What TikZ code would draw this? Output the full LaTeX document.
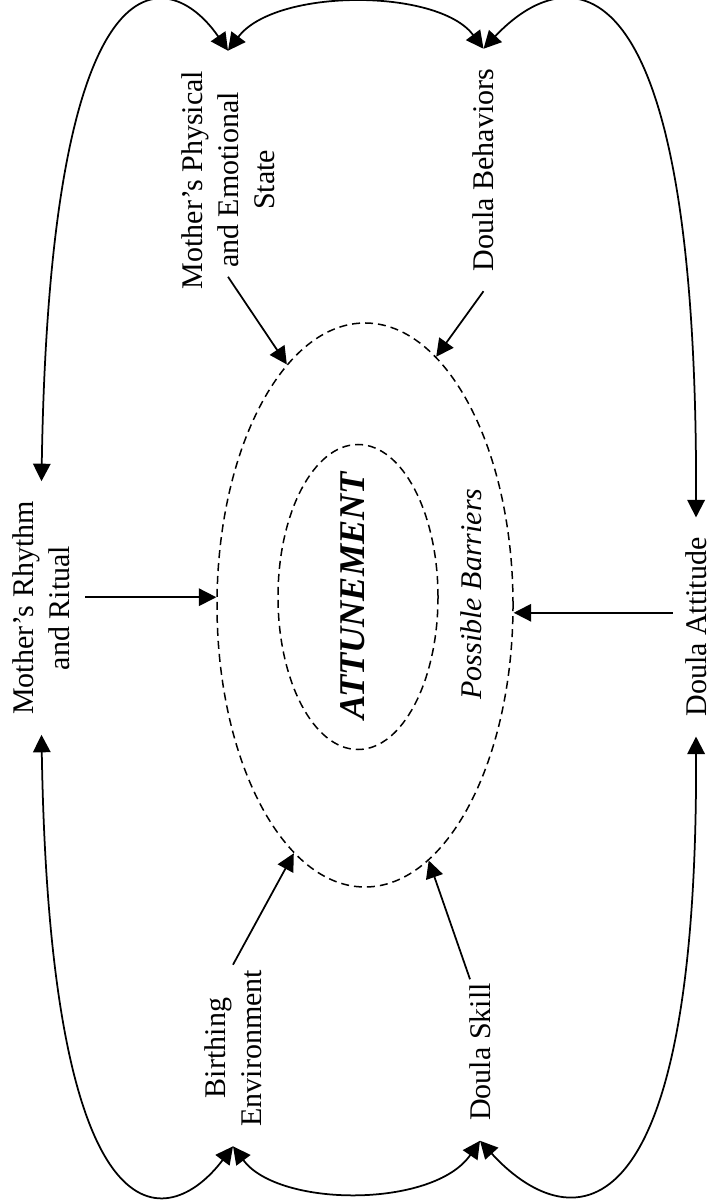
\documentclass[tikz,border=0pt]{standalone}
\usepackage{fontspec}
\setmainfont{Liberation Serif}
\usepackage{tikz}
\usetikzlibrary{arrows.meta, shapes.geometric}

\begin{document}
\begin{tikzpicture}[
  x=0.4pt, y=-0.4pt,
  font=\fontsize{12}{14.4}\selectfont,
  factor/.style={rotate=90, align=center, inner sep=0pt, outer xsep=8pt, outer ysep=0pt},
  ring/.style={draw, ellipse, line width=0.6pt, dash pattern=on 3.2pt off 2pt, inner sep=0pt},
  a/.style={-{Triangle[length=7pt, width=7pt]}, line width=0.7pt},
  aa/.style={{Triangle[length=7pt, width=7pt]}-{Triangle[length=7pt, width=7pt]}, line width=0.7pt}
]
\useasboundingbox (0,0) rectangle (710,1203);
\node[ring, minimum width=118.4pt, minimum height=225.6pt] (outer) at (365,605) {};
\node[ring, minimum width=64pt, minimum height=122pt] (inner) at (358,597) {};
\node[rotate=90, font=\fontsize{14.5}{17}\selectfont\bfseries\itshape] (attune) at (353,596) {ATTUNEMENT};
\node[rotate=90, font=\fontsize{12}{14.4}\selectfont\itshape] (barrier) at (471,594) {Possible Barriers};

\node[factor] (rhythm) at (41.5,608) {Mother's Rhythm\\and Ritual};
\node[factor] (phys) at (228,180) {Mother's Physical\\and Emotional\\State};
\node[factor] (behav) at (483.5,170) {Doula Behaviors};
\node[factor] (attitude) at (696,627) {Doula Attitude};
\node[factor] (birth) at (233,1048) {Birthing\\Environment};
\node[factor] (skill) at (480,1052) {Doula Skill};

% factors pointing in
\draw[a] ([yshift=13pt]phys.west) -- (outer.108);
\draw[a] (behav.west) -- (outer.74);
\draw[a] ([yshift=-6pt]birth.east) -- (outer.254);
\draw[a] ([xshift=-4pt, yshift=-6.4pt]skill.east) -- (outer.284);
\draw[a, shorten <=6pt] (rhythm.south |- outer.177) -- (outer.177);
\draw[a, shorten <=5pt] (attitude.north |- outer.357) -- (outer.357);

% links round the outside
\draw[aa] (rhythm.east) .. controls (50,-60) and (169,-35) .. (phys.east);
\draw[aa] (phys.east) .. controls (275,-12) and (438,-12) .. (behav.east);
\draw[aa] (behav.east) .. controls (565,-38) and (698,-60) .. (attitude.east);
\draw[aa] (rhythm.west) .. controls (50,1256) and (169,1231) .. (birth.west);
\draw[aa] (birth.west) .. controls (279,1208) and (434,1208) .. (skill.west);
\draw[aa] (skill.west) .. controls (565,1234) and (698,1256) .. (attitude.west);
\end{tikzpicture}
\end{document}
